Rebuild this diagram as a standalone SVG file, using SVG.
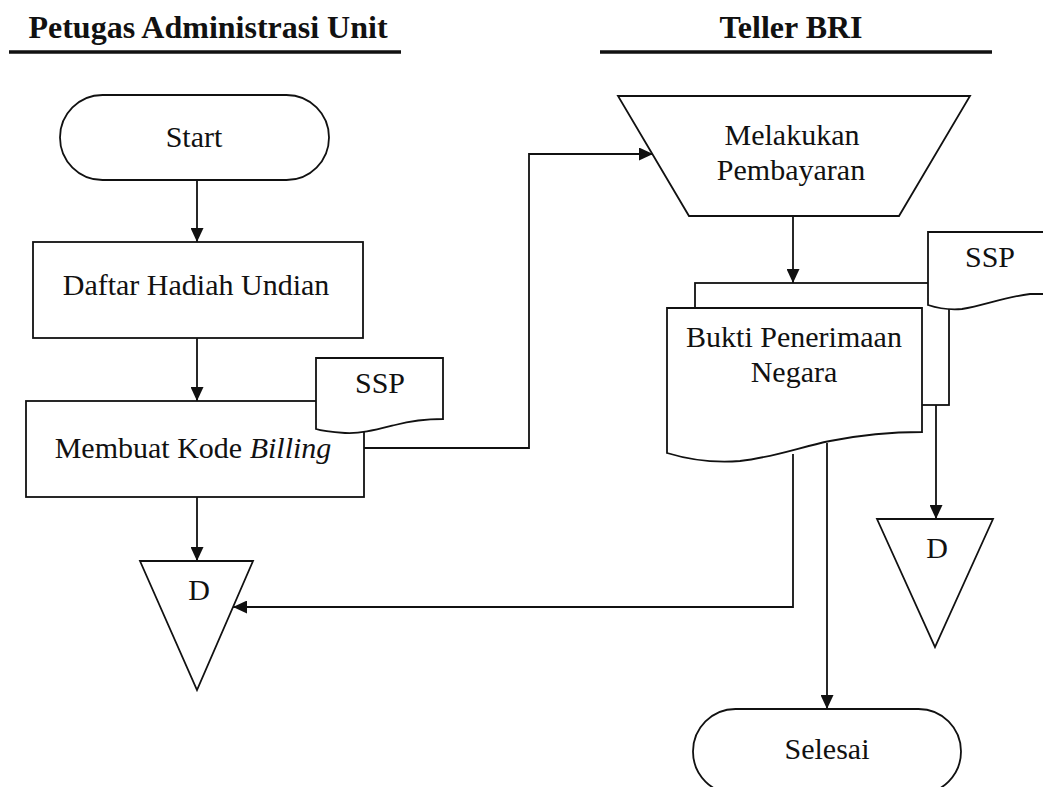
<svg xmlns="http://www.w3.org/2000/svg" width="1043" height="787" viewBox="0 0 1043 787">
<style>
.s{fill:#fff;stroke:#111;stroke-width:1.8}
.c{fill:none;stroke:#111;stroke-width:1.8}
.t{font-family:'Liberation Serif','Times New Roman',serif;font-size:30px;fill:#111;text-anchor:middle}
.h{font-family:'Liberation Serif','Times New Roman',serif;font-size:32px;font-weight:bold;fill:#111;text-anchor:middle}
.u{stroke:#111;stroke-width:3.5}
</style>
<defs>
<marker id="ah" markerUnits="userSpaceOnUse" markerWidth="14" markerHeight="13" refX="14" refY="6.5" orient="auto">
<path d="M0,0 L14,6.5 L0,13 Z" fill="#111"/>
</marker>
</defs>
<rect width="1043" height="787" fill="#fff"/>
<g id="lane-headers">
<text class="h" x="208" y="38">Petugas Administrasi Unit</text>
<line class="u" x1="9" y1="52" x2="401" y2="52"/>
<text class="h" x="791" y="38">Teller BRI</text>
<line class="u" x1="600" y1="52" x2="992" y2="52"/>
</g>
<g id="connectors">
<line class="c" x1="197" y1="180" x2="197" y2="242" marker-end="url(#ah)"/>
<line class="c" x1="197" y1="338" x2="197" y2="401" marker-end="url(#ah)"/>
<line class="c" x1="197" y1="497" x2="197" y2="561" marker-end="url(#ah)"/>
<path class="c" d="M364,448 H529 V154 H653" marker-end="url(#ah)"/>
<line class="c" x1="793" y1="216" x2="793" y2="283" marker-end="url(#ah)"/>
<path class="c" d="M793,454 V607 H233" marker-end="url(#ah)"/>
<line class="c" x1="827" y1="443" x2="827" y2="709" marker-end="url(#ah)"/>
<line class="c" x1="936" y1="405" x2="936" y2="519" marker-end="url(#ah)"/>
</g>
<g id="start">
<rect class="s" x="60" y="95" width="269" height="85" rx="42.5"/>
<text class="t" x="194" y="147">Start</text>
</g>
<g id="daftar">
<rect class="s" x="33" y="242" width="330" height="96"/>
<text class="t" x="196" y="295">Daftar Hadiah Undian</text>
</g>
<g id="membuat">
<rect class="s" x="26" y="401" width="338" height="96"/>
<text class="t" x="193" y="458">Membuat Kode <tspan font-style="italic">Billing</tspan></text>
</g>
<g id="ssp-left">
<path class="s" d="M316,358 H443 V419 C425,419 410,421 395,425 C375,430 360,434 345,433 C332,432 322,431 316,429 Z"/>
<text class="t" x="380" y="393">SSP</text>
</g>
<g id="d-left">
<path class="s" d="M140,561 L253,561 L197,690 Z"/>
<text class="t" x="199" y="600">D</text>
</g>
<g id="pembayaran">
<path class="s" d="M618,96 L970,96 L899,216 L689,216 Z"/>
<text class="t" x="792" y="145">Melakukan</text>
<text class="t" x="791" y="180">Pembayaran</text>
</g>
<g id="bukti">
<rect class="s" x="695" y="283" width="254" height="122"/>
<path class="s" d="M667,308 H922 V432 C890,432 860,435 830,441 C800,447 775,457 740,461 C715,463 690,460 667,453 Z"/>
<text class="t" x="794" y="347">Bukti Penerimaan</text>
<text class="t" x="794" y="382">Negara</text>
</g>
<g id="ssp-right">
<path class="s" d="M928,232 H1056 V294 H1030 C1005,297 985,305 962,309 C950,310 940,309 928,305 Z"/>
<text class="t" x="990" y="267">SSP</text>
</g>
<g id="d-right">
<path class="s" d="M877,519 L993,519 L935,647 Z"/>
<text class="t" x="937" y="558">D</text>
</g>
<g id="selesai">
<rect class="s" x="693" y="709" width="268" height="85" rx="42.5"/>
<text class="t" x="827" y="759">Selesai</text>
</g>
</svg>
